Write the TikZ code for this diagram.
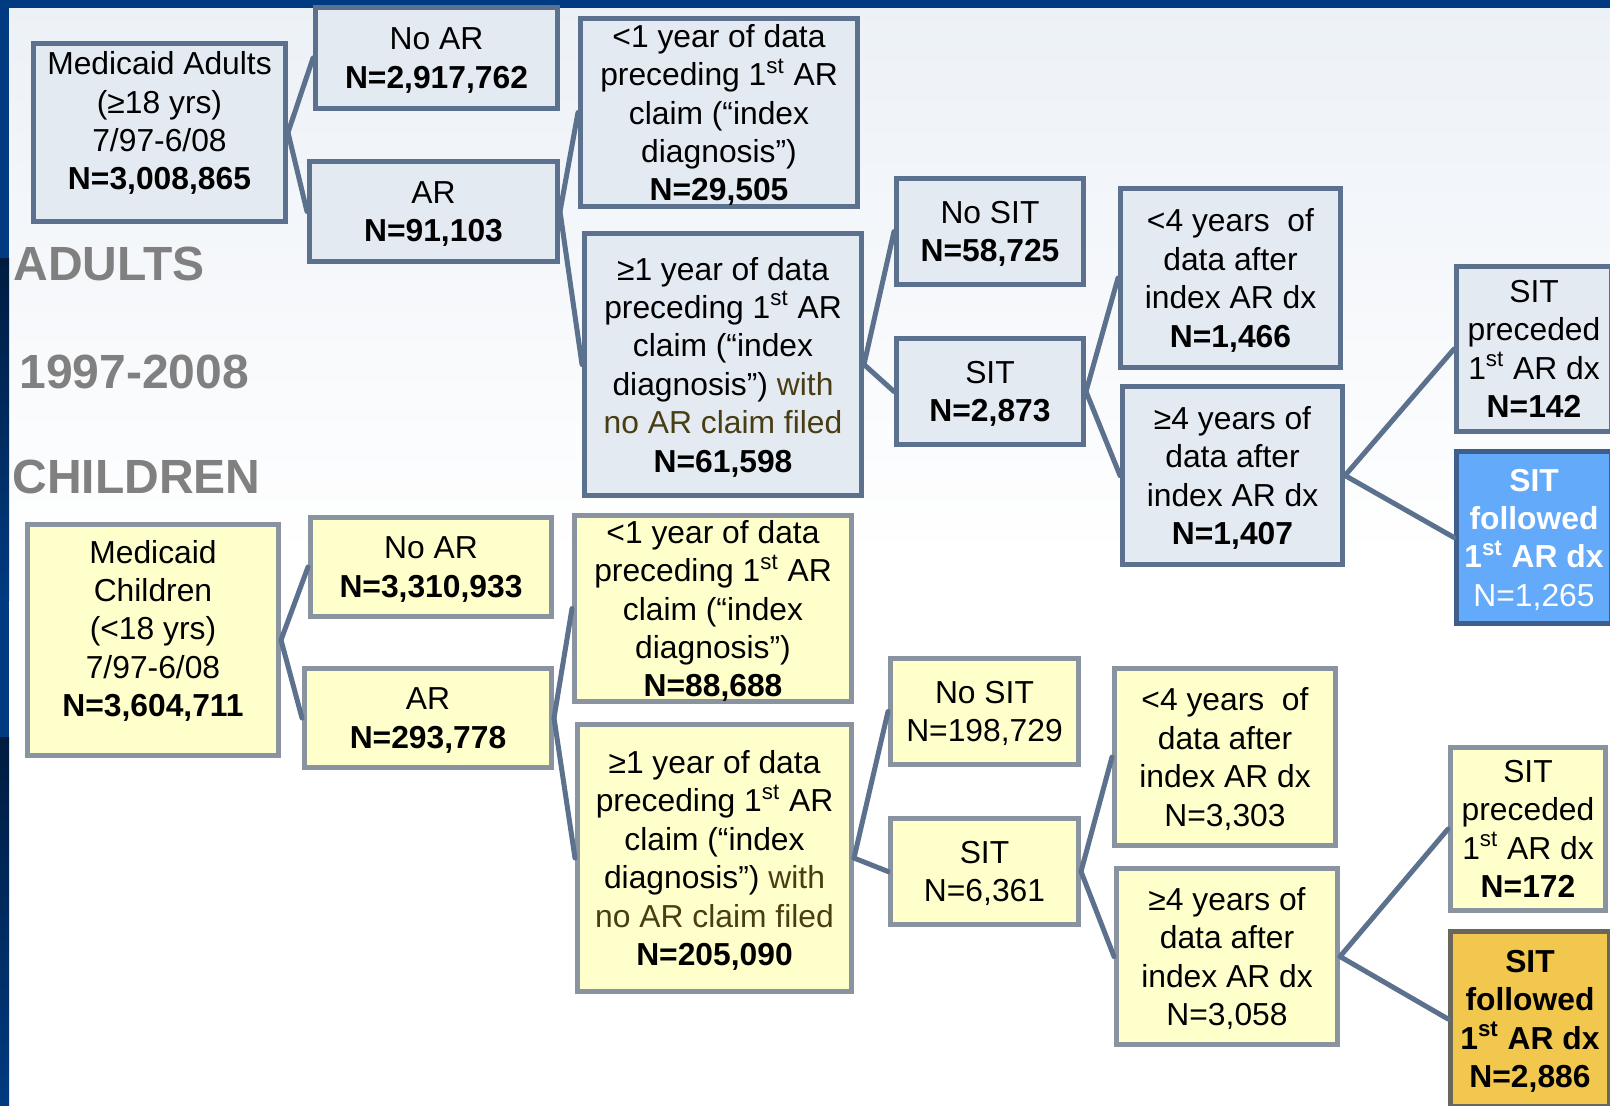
\documentclass[tikz,border=0pt]{standalone}
\usepackage{fontspec}
\setmainfont{Liberation Sans}
\usepackage{tikz}
\definecolor{adultfill}{RGB}{228,234,242}
\definecolor{adultline}{RGB}{92,113,141}
\definecolor{childfill}{RGB}{255,255,204}
\definecolor{childline}{RGB}{138,147,160}
\definecolor{linkcol}{RGB}{92,113,141}
\definecolor{sidegray}{RGB}{128,128,128}
\definecolor{filedtext}{RGB}{73,61,20}
\definecolor{sitblue}{RGB}{99,170,250}
\definecolor{sitblueline}{RGB}{62,95,140}
\definecolor{sitgold}{RGB}{242,199,78}
\definecolor{sitgoldline}{RGB}{105,102,92}
\definecolor{barblue}{RGB}{0,58,128}
\definecolor{barnavy}{RGB}{0,28,64}
\definecolor{bgtop}{RGB}{236,241,247}

\newcommand{\boxfont}{\fontsize{15.9}{19.2}\selectfont}
\newcommand{\sidefont}{\fontsize{24}{28}\selectfont\bfseries}

\begin{document}
\begin{tikzpicture}[
  x=0.5pt, y=-0.5pt,
  box/.style={rectangle, draw=#1, line width=2.5pt, inner sep=0pt, align=center, text depth=0pt, font=\boxfont},
  adult/.style={box=adultline, fill=adultfill},
  child/.style={box=childline, fill=childfill},
  sz/.style 2 args={minimum width=#1*0.5pt, minimum height=#2*0.5pt},
  link/.style={draw=linkcol, line width=2.5pt, line cap=round},
  side/.style={anchor=west, inner sep=0pt, text=sidegray, font=\sidefont},
]

% slide background
\useasboundingbox (0,0) rectangle (1610,1105);
\clip (0,0) rectangle (1610,1105);
\shade[top color=bgtop, bottom color=white] (0,0) rectangle (1610,560);
\fill[white] (0,560) rectangle (1610,1105);
\fill[barblue] (0,0) rectangle (1610,8);
\fill[barblue] (0,0) rectangle (9,258);
\shade[top color=barnavy, bottom color=barblue] (0,258) rectangle (9,600);
\fill[barblue] (0,600) rectangle (9,737);
\shade[top color=barnavy, bottom color=barblue] (0,737) rectangle (9,1105);

\node[side] (adults) at (13,264) {ADULTS};
\node[side] (years) at (19,372) {1997-2008};
\node[side] (children) at (12,477) {CHILDREN};

% adults
\node[adult, sz={252}{178}] (ma) at (159.5,132.5) {Medicaid Adults\\(≥18 yrs)\\7/97-6/08\\\textbf{N=3,008,865}\\[-7.5pt]~};
\node[adult, sz={242}{101}] (anoar) at (436.5,58) {No AR\\\textbf{N=2,917,762}};
\node[adult, sz={248}{100}] (aar) at (433.5,211.5) {AR\\\textbf{N=91,103}};
\node[adult, sz={277}{188}] (alt1) at (719,112.5) {<1 year of data\\preceding 1\textsuperscript{st} AR\\claim (“index\\diagnosis”)\\\textbf{N=29,505}};
\node[adult, sz={277}{262}] (age1) at (723,364.5) {≥1 year of data\\preceding 1\textsuperscript{st} AR\\claim (“index\\diagnosis”) \textcolor{filedtext}{with}\\\textcolor{filedtext}{no AR claim filed}\\\textbf{N=61,598}};
\node[adult, sz={187}{106}] (anosit) at (990,231.5) {No SIT\\\textbf{N=58,725}};
\node[adult, sz={187}{106}] (asit) at (990,391.5) {SIT\\\textbf{N=2,873}};
\node[adult, sz={220}{179}] (alt4) at (1230.5,278) {<4 years~ of\\data after\\index AR dx\\\textbf{N=1,466}};
\node[adult, sz={220}{178}] (age4) at (1232.5,475.5) {≥4 years of\\data after\\index AR dx\\\textbf{N=1,407}};
\node[adult, sz={155}{165}] (apre) at (1534,349) {SIT\\preceded\\1\textsuperscript{st} AR dx\\\textbf{N=142}};
\node[box=sitblueline, fill=sitblue, text=white, sz={155}{172}] (afol) at (1534,537.5) {\textbf{SIT}\\\textbf{followed}\\\textbf{1\textsuperscript{st} AR dx}\\N=1,265};

% children
\node[child, sz={251}{231}] (mc) at (153,640) {Medicaid\\Children\\(<18 yrs)\\7/97-6/08\\\textbf{N=3,604,711}\\[-7.5pt]~};
\node[child, sz={241}{99}] (cnoar) at (431,567) {No AR\\\textbf{N=3,310,933}};
\node[child, sz={247}{99}] (car) at (428,718) {AR\\\textbf{N=293,778}};
\node[child, sz={277}{186}] (clt1) at (713,608.5) {<1 year of data\\preceding 1\textsuperscript{st} AR\\claim (“index\\diagnosis”)\\\textbf{N=88,688}};
\node[child, sz={274}{267}] (cge1) at (714.5,858) {≥1 year of data\\preceding 1\textsuperscript{st} AR\\claim (“index\\diagnosis”) \textcolor{filedtext}{with}\\\textcolor{filedtext}{no AR claim filed}\\\textbf{N=205,090}};
\node[child, sz={188}{106}] (cnosit) at (984.5,711.5) {No SIT\\N=198,729};
\node[child, sz={188}{106}] (csit) at (984.5,871.5) {SIT\\N=6,361};
\node[child, sz={221}{177}] (clt4) at (1225,757) {<4 years~ of\\data after\\index AR dx\\N=3,303};
\node[child, sz={221}{176}] (cge4) at (1227,956.5) {≥4 years of\\data after\\index AR dx\\N=3,058};
\node[child, sz={155}{163}] (cpre) at (1528,829) {SIT\\preceded\\1\textsuperscript{st} AR dx\\\textbf{N=172}};
\node[box=sitgoldline, fill=sitgold, font=\boxfont\bfseries, sz={159}{175}] (cfol) at (1530,1019) {SIT\\followed\\1\textsuperscript{st} AR dx\\N=2,886};

% links
\draw[link] (ma.east) -- (anoar.west);
\draw[link] (ma.east) -- (aar.west);
\draw[link] (aar.east) -- (alt1.west);
\draw[link] (aar.east) -- (age1.west);
\draw[link] (age1.east) -- (anosit.west);
\draw[link] (age1.east) -- (asit.west);
\draw[link] (asit.east) -- (alt4.west);
\draw[link] (asit.east) -- (age4.west);
\draw[link] (age4.east) -- (apre.west);
\draw[link] (age4.east) -- (afol.west);

\draw[link] (mc.east) -- (cnoar.west);
\draw[link] (mc.east) -- (car.west);
\draw[link] (car.east) -- (clt1.west);
\draw[link] (car.east) -- (cge1.west);
\draw[link] (cge1.east) -- (cnosit.west);
\draw[link] (cge1.east) -- (csit.west);
\draw[link] (csit.east) -- (clt4.west);
\draw[link] (csit.east) -- (cge4.west);
\draw[link] (cge4.east) -- (cpre.west);
\draw[link] (cge4.east) -- (cfol.west);

\end{tikzpicture}
\end{document}
